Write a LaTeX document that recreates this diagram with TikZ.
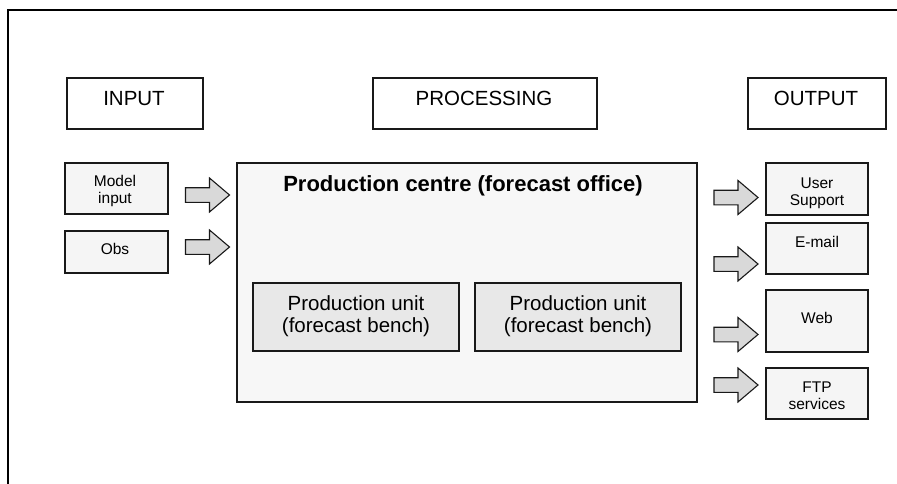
\documentclass[tikz,border=0pt]{standalone}
\usepackage{fontspec}
\setmainfont{Liberation Sans}
\begin{document}
\begin{tikzpicture}[x=1pt,y=-1pt,
  box/.style={draw=black!90,line width=1.2pt,inner sep=0pt},
  headbox/.style={box,fill=white},
  smallbox/.style={box,fill=black!4},
  centrebox/.style={box,fill=black!3},
  unitbox/.style={box,fill=black!9},
  headtxt/.style={anchor=base,inner sep=0pt,font=\fontsize{20.5}{22}\selectfont},
  unittxt/.style={anchor=base,inner sep=0pt,align=center,font=\fontsize{20.5}{22}\selectfont},
  smalltxt/.style={anchor=base,inner sep=0pt,align=center,font=\fontsize{15.5}{17}\selectfont},
  titletxt/.style={anchor=base,inner sep=0pt,font=\fontsize{22}{24}\selectfont\bfseries},
  blockarrow/.pic={
    \draw[draw=black!90,line width=1.1pt,fill=black!15,line join=miter]
      (-22,-7.3) -- (2,-7.3) -- (2,-17) -- (22,0) -- (2,17) -- (2,7.3) -- (-22,7.3) -- cycle;}
]
\useasboundingbox (0,0) rectangle (897,484);

% open outer frame
\draw[line width=1.6pt] (8,484) -- (8,10) -- (897,10);

% column headings
\node[headbox,minimum width=136pt,minimum height=51pt] (hin) at (135,103.5) {};
\node[headbox,minimum width=224pt,minimum height=51pt] (hproc) at (485,103.5) {};
\node[headbox,minimum width=138pt,minimum height=51pt] (hout) at (817,103.5) {};
\node[headtxt] (hintxt) at (134,106) {INPUT};
\node[headtxt] (hproctxt) at (484,106) {PROCESSING};
\node[headtxt] (houttxt) at (816,106) {OUTPUT};

% inputs (multi-line texts are placed by the baseline of their last line)
\node[smallbox,minimum width=103pt,minimum height=51pt] (model) at (116.5,188.5) {};
\node[smallbox,minimum width=103pt,minimum height=42pt] (obs) at (116.5,252) {};
\node[smalltxt] (modeltxt) at (115,203.5) {Model\\input};
\node[smalltxt] (obstxt) at (115,254) {Obs};

% production centre with its two units
\node[centrebox,minimum width=460pt,minimum height=239pt] (centre) at (467,282.5) {};
\node[titletxt] (centretxt) at (463,191) {Production centre (forecast office)};
\node[unitbox,minimum width=206pt,minimum height=68pt] (unitA) at (356,317) {};
\node[unitbox,minimum width=206pt,minimum height=68pt] (unitB) at (578,317) {};
\node[unittxt] (unitAtxt) at (356,332) {Production unit\\(forecast bench)};
\node[unittxt] (unitBtxt) at (578,332) {Production unit\\(forecast bench)};

% outputs
\node[smallbox,minimum width=102pt,minimum height=52pt] (user) at (817,189) {};
\node[smallbox,minimum width=102pt,minimum height=51pt] (email) at (817,248.5) {};
\node[smallbox,minimum width=102pt,minimum height=62pt] (web) at (817,321) {};
\node[smallbox,minimum width=102pt,minimum height=51pt] (ftp) at (817,393.5) {};
\node[smalltxt] (usertxt) at (817,205) {User\\Support};
\node[smalltxt] (emailtxt) at (817,247) {E-mail};
\node[smalltxt] (webtxt) at (817,323) {Web};
\node[smalltxt] (ftptxt) at (817,409) {FTP\\services};

% block arrows into and out of the centre
\pic at (207.5,195) {blockarrow};
\pic at (207.5,247) {blockarrow};
\pic at (736,197.5) {blockarrow};
\pic at (736,264) {blockarrow};
\pic at (736,334.5) {blockarrow};
\pic at (736,385) {blockarrow};
\end{tikzpicture}
\end{document}
